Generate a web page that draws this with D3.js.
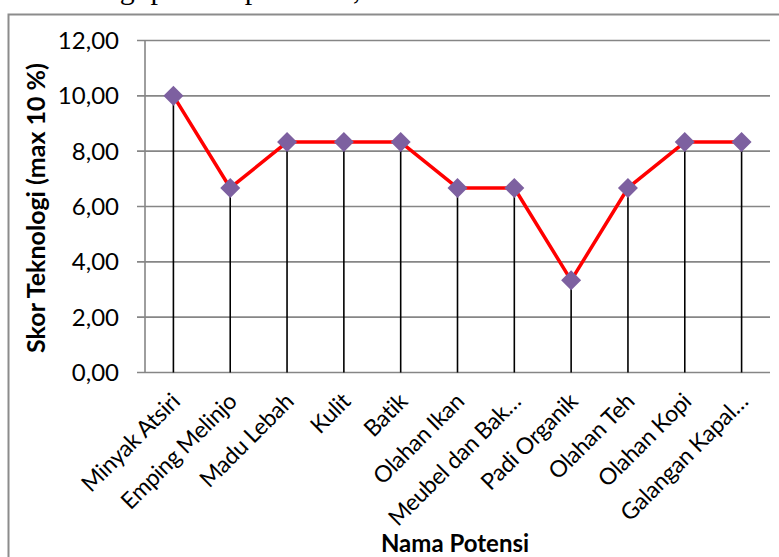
<!DOCTYPE html>
<html>
<head>
<meta charset="utf-8">
<script src="https://cdn.jsdelivr.net/npm/d3@7"></script>
<style>
  body { margin: 0; background: #fff; }
  svg { display: block; }
  text { font-family: Lato, "Open Sans", sans-serif; fill: #000; }
</style>
</head>
<body>
<script>
var w = 779;
var h = 557;

// data
var categories = ["Minyak Atsiri", "Emping Melinjo", "Madu Lebah", "Kulit", "Batik",
  "Olahan Ikan", "Meubel dan Bak\u2026", "Padi Organik", "Olahan Teh", "Olahan Kopi", "Galangan Kapal\u2026"];
var scores = [10.00, 6.67, 8.33, 8.33, 8.33, 6.67, 6.67, 3.33, 6.67, 8.33, 8.33];
var yTicks = [0, 2, 4, 6, 8, 10, 12];

var svg = d3.select("body")
  .append("svg")
  .attr("width", w)
  .attr("height", h);

// line of document text above the chart, mostly scrolled out of view
svg.append("text")
  .attr("x", 98)
  .attr("y", -1.5)
  .style("font-family", "'Liberation Serif', serif")
  .style("font-size", "30px")
  .text("lagi potensi potensial, dan");

// chart frame
svg.append("rect")
  .attr("x", 8.5)
  .attr("y", 14.5)
  .attr("width", 800)
  .attr("height", 600)
  .attr("fill", "none")
  .attr("stroke", "#8c8c8c")
  .attr("stroke-width", 2);

var x = d3.scaleBand()
  .domain(categories)
  .range([145, 770]);

var y = d3.scaleLinear()
  .domain([0, 12])
  .range([372.5, 40.5]);

var fmt = function(v) { return d3.format(".2f")(v).replace(".", ","); };

// gridlines
svg.selectAll("line.grid")
  .data(yTicks)
  .enter()
  .append("line")
  .attr("class", "grid")
  .attr("x1", 137)
  .attr("x2", 770)
  .attr("y1", function(d) { return y(d); })
  .attr("y2", function(d) { return y(d); })
  .style("stroke", "#868686")
  .style("stroke-width", 1.6);

// y axis line
svg.append("line")
  .attr("x1", 145).attr("x2", 145)
  .attr("y1", y(12)).attr("y2", y(0))
  .style("stroke", "#868686")
  .style("stroke-width", 1.6);

// y tick labels
svg.selectAll("text.ytick")
  .data(yTicks)
  .enter()
  .append("text")
  .attr("class", "ytick")
  .attr("x", 119)
  .attr("y", function(d) { return y(d); })
  .attr("dy", "0.36em")
  .attr("text-anchor", "end")
  .style("font-size", "24px")
  .text(fmt);

// drop lines
var cx = function(d, i) { return x(categories[i]) + x.bandwidth() / 2; };

svg.selectAll("line.drop")
  .data(scores)
  .enter()
  .append("line")
  .attr("class", "drop")
  .attr("x1", cx)
  .attr("x2", cx)
  .attr("y1", function(d) { return y(d); })
  .attr("y2", y(0))
  .style("stroke", "#000")
  .style("stroke-width", 1.6);

// series line
var line = d3.line()
  .x(function(d, i) { return cx(d, i); })
  .y(function(d) { return y(d); });

svg.append("path")
  .datum(scores)
  .attr("d", line)
  .attr("fill", "none")
  .style("stroke", "#ff0000")
  .style("stroke-width", 3.5)
  .style("stroke-linejoin", "round");

// diamond markers
svg.selectAll("path.marker")
  .data(scores)
  .enter()
  .append("path")
  .attr("class", "marker")
  .attr("d", "M0,-10L10,0L0,10L-10,0Z")
  .attr("transform", function(d, i) { return "translate(" + cx(d, i) + "," + y(d) + ")"; })
  .attr("fill", "#7d60a0");

// category labels
svg.selectAll("text.xtick")
  .data(categories)
  .enter()
  .append("text")
  .attr("class", "xtick")
  .attr("text-anchor", "end")
  .attr("transform", function(d) {
    return "translate(" + (x(d) + x.bandwidth() / 2 + 8) + "," + 403 + ") rotate(-45)";
  })
  .style("font-size", "23px")
  .style("letter-spacing", "-0.3px")
  .text(function(d) { return d; });

// axis titles
svg.append("text")
  .attr("transform", "translate(45,208) rotate(-90)")
  .attr("text-anchor", "middle")
  .style("font-size", "25px")
  .style("font-weight", "bold")
  .text("Skor Teknologi (max 10 %)");

svg.append("text")
  .attr("x", 455)
  .attr("y", 552)
  .attr("text-anchor", "middle")
  .style("font-size", "24px")
  .style("font-weight", "bold")
  .text("Nama Potensi");
</script>
</body>
</html>
